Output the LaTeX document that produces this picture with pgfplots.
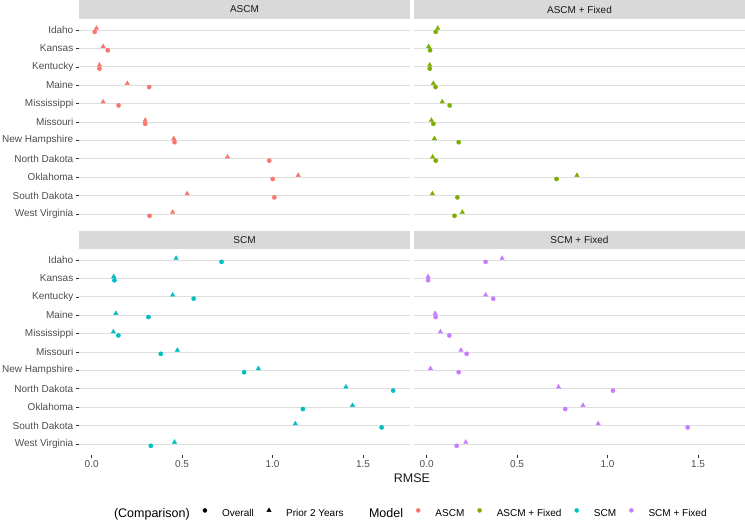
\documentclass[border=0pt]{standalone}
\usepackage{pgfplots}
\pgfplotsset{compat=1.18}
\usepackage{fontspec}
\setmainfont{Liberation Sans}
\definecolor{cA}{HTML}{F8766D}
\definecolor{cB}{HTML}{7CAE00}
\definecolor{cC}{HTML}{00BFC4}
\definecolor{cD}{HTML}{C77CFF}
\definecolor{gridc}{HTML}{DEDEDE}
\definecolor{stripc}{HTML}{D9D9D9}
\definecolor{tickc}{HTML}{4D4D4D}
\definecolor{tickm}{HTML}{333333}
\pgfplotsset{
  panel/.style={
    width=331pt, height=206pt, scale only axis,
    xmin=-0.07, xmax=1.76, ymin=0.4, ymax=11.6, y dir=reverse,
    axis x line*=bottom, axis y line*=left, axis line style={draw=none},
    ytick={1,...,11}, xtick={0,0.5,1,1.5},
    ymajorgrids, grid style={color=gridc, line width=0.7pt},
    tick align=outside, major tick length=3pt,
    tick style={color=tickm, line width=0.6pt},
    tick label style={font=\fontsize{10}{12}\selectfont, text=tickc},
    yticklabel style={anchor=east, inner sep=0pt, xshift=-2.5pt},
    xticklabel style={anchor=north, inner sep=0pt, yshift=-2.5pt},
    /pgf/number format/assume math mode=true,
    clip=false,
  },
  tri/.style={only marks, mark=triangle*, mark size=2.5pt, color=#1},
  dot/.style={only marks, mark=*, mark size=2.1pt, color=#1},
}
\begin{document}
\begin{tikzpicture}
\useasboundingbox (0pt,0pt) rectangle (745pt,-521pt);
% strips
\fill[stripc] (79pt,0pt) rectangle (410pt,-19pt);
\fill[stripc] (414pt,0pt) rectangle (745pt,-19pt);
\fill[stripc] (79pt,-231pt) rectangle (410pt,-249pt);
\fill[stripc] (414pt,-231pt) rectangle (745pt,-249pt);
\node[font=\fontsize{10}{12}\selectfont, text={black!90}] at (244.5pt,-9.5pt) {ASCM};
\node[font=\fontsize{10}{12}\selectfont, text={black!90}] at (579.5pt,-9.5pt) {ASCM + Fixed};
\node[font=\fontsize{10}{12}\selectfont, text={black!90}] at (244.5pt,-240pt) {SCM};
\node[font=\fontsize{10}{12}\selectfont, text={black!90}] at (579.5pt,-240pt) {SCM + Fixed};

% ASCM
\begin{axis}[panel, at={(79pt,-225pt)}, anchor=south west,
  xticklabels={}, xtick style={draw=none},
  yticklabels={Idaho,Kansas,Kentucky,Maine,Mississippi,Missouri,New Hampshire,North Dakota,Oklahoma,South Dakota,West Virginia}]
\addplot[tri=cA] coordinates {(0.026,0.9)(0.063,1.9)(0.043,2.9)(0.197,3.9)(0.063,4.9)(0.296,5.9)(0.454,6.9)(0.751,7.9)(1.142,8.9)(0.528,9.9)(0.448,10.9)};
\addplot[dot=cA] coordinates {(0.017,1.1)(0.089,2.1)(0.043,3.1)(0.318,4.1)(0.149,5.1)(0.296,6.1)(0.458,7.1)(0.982,8.1)(1.001,9.1)(1.010,10.1)(0.320,11.1)};
\end{axis}

% ASCM + Fixed
\begin{axis}[panel, at={(414pt,-225pt)}, anchor=south west,
  xticklabels={}, xtick style={draw=none}, yticklabels={}, ytick style={draw=none}]
\addplot[tri=cB] coordinates {(0.061,0.9)(0.011,1.9)(0.017,2.9)(0.037,3.9)(0.086,4.9)(0.026,5.9)(0.043,6.9)(0.033,7.9)(0.831,8.9)(0.032,9.9)(0.197,10.9)};
\addplot[dot=cB] coordinates {(0.050,1.1)(0.019,2.1)(0.017,3.1)(0.049,4.1)(0.127,5.1)(0.037,6.1)(0.177,7.1)(0.050,8.1)(0.718,9.1)(0.170,10.1)(0.154,11.1)};
\end{axis}

% SCM
\begin{axis}[panel, at={(79pt,-455pt)}, anchor=south west,
  xticklabels={0.0,0.5,1.0,1.5},
  yticklabels={Idaho,Kansas,Kentucky,Maine,Mississippi,Missouri,New Hampshire,North Dakota,Oklahoma,South Dakota,West Virginia},
  legend columns=-1,
  legend style={draw=none, fill=none, at={(0.0801,-0.286)}, anchor=west, inner sep=0pt, outer sep=0pt,
    font=\fontsize{10}{12}\selectfont,
    nodes={inner xsep=0pt, inner ysep=1pt},
    /tikz/every odd column/.append style={column sep=8.5pt},
    /tikz/every even column/.append style={column sep=6.5pt}},
  legend image code/.code={\path (-8.5pt,0pt) (8.5pt,0pt); \draw[#1] plot coordinates {(0pt,3.5pt)};},
]
\addplot[tri=cC, forget plot] coordinates {(0.467,0.9)(0.122,1.9)(0.448,2.9)(0.134,3.9)(0.120,4.9)(0.474,5.9)(0.922,6.9)(1.406,7.9)(1.442,8.9)(1.126,9.9)(0.458,10.9)};
\addplot[dot=cC, forget plot] coordinates {(0.718,1.1)(0.126,2.1)(0.564,3.1)(0.314,4.1)(0.148,5.1)(0.382,6.1)(0.843,7.1)(1.667,8.1)(1.168,9.1)(1.603,10.1)(0.327,11.1)};
\addlegendimage{legend image code/.code={}}
\addlegendentry{\fontsize{12.5}{14}\selectfont (Comparison)}
\addlegendimage{mark=*, mark size=2.0pt, black}
\addlegendentry{Overall}
\addlegendimage{mark=triangle*, mark size=2.5pt, black}
\addlegendentry{Prior 2 Years}
\addlegendimage{legend image code/.code={\path (0pt,0pt) (10pt,0pt);}}
\addlegendentry{\fontsize{12.5}{14}\selectfont Model}
\addlegendimage{mark=*, mark size=2.0pt, cA}
\addlegendentry{ASCM}
\addlegendimage{mark=*, mark size=2.0pt, cB}
\addlegendentry{ASCM + Fixed}
\addlegendimage{mark=*, mark size=2.0pt, cC}
\addlegendentry{SCM}
\addlegendimage{mark=*, mark size=2.0pt, cD}
\addlegendentry{SCM + Fixed}
\end{axis}

% SCM + Fixed
\begin{axis}[panel, at={(414pt,-455pt)}, anchor=south west,
  xticklabels={0.0,0.5,1.0,1.5}, yticklabels={}, ytick style={draw=none}]
\addplot[tri=cD] coordinates {(0.417,0.9)(0.008,1.9)(0.326,2.9)(0.047,3.9)(0.076,4.9)(0.190,5.9)(0.021,6.9)(0.729,7.9)(0.864,8.9)(0.948,9.9)(0.216,10.9)};
\addplot[dot=cD] coordinates {(0.326,1.1)(0.008,2.1)(0.368,3.1)(0.050,4.1)(0.125,5.1)(0.221,6.1)(0.177,7.1)(1.030,8.1)(0.766,9.1)(1.443,10.1)(0.166,11.1)};
\end{axis}

\node[font=\fontsize{12.5}{14}\selectfont, text={black!90}] at (412pt,-478pt) {RMSE};
\end{tikzpicture}
\end{document}
